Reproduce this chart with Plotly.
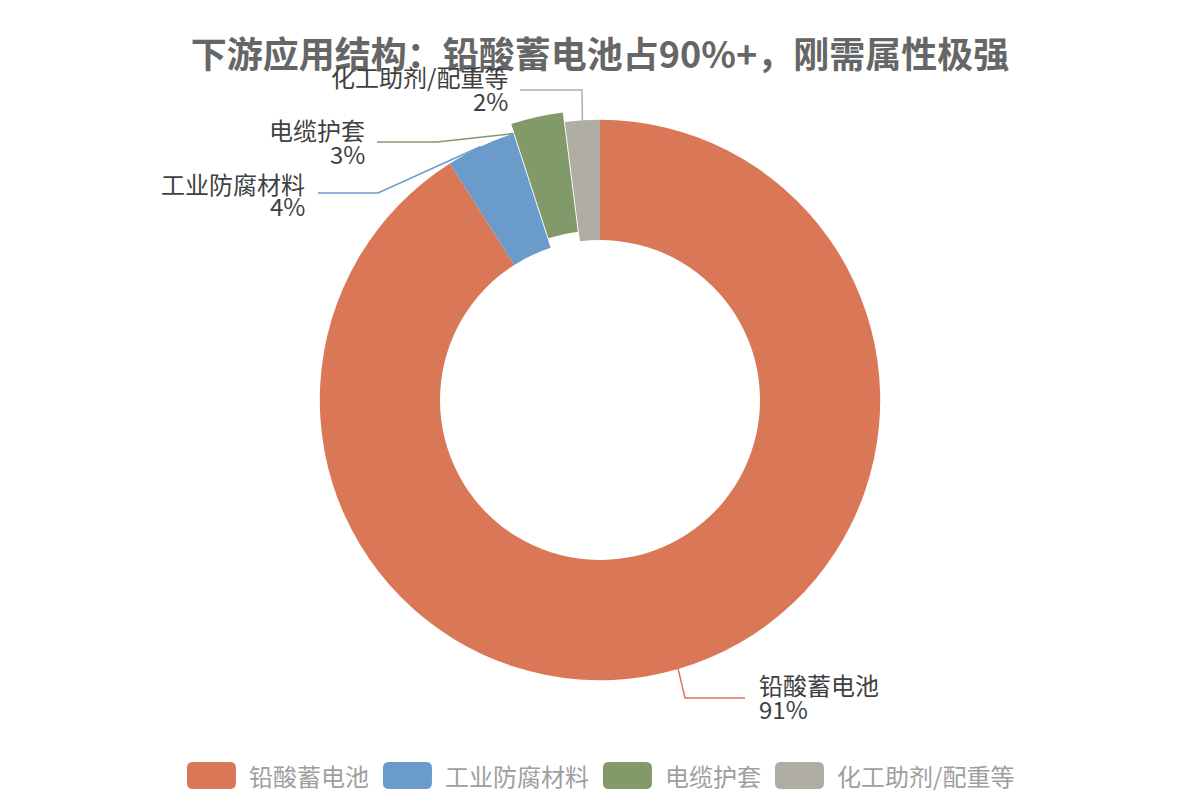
import math
import plotly.graph_objects as go

# ---------------- data ----------------
categories = ["铅酸蓄电池", "工业防腐材料", "电缆护套", "化工助剂/配重等"]
shares = [91, 4, 3, 2]
colors = ["#D97757", "#6B9BCB", "#82996A", "#B0ADA5"]
pulls = [0, 0, 0.035, 0]
title_text = "下游应用结构：铅酸蓄电池占90%+，刚需属性极强"

# ---------------- layout constants (pixels) ----------------
W, H = 1200, 800
ML, MR, MT, MB = 80, 80, 110, 110
PW, PH = W - ML - MR, H - MT - MB
CX, CY = ML + PW / 2, MT + PH / 2
R = min(PW, PH) / 2 / (1 + max(pulls))
HOLE = 0.571
FONT = "Noto Sans CJK SC, Noto Sans, sans-serif"

# label placement (Excel-like callouts): attach fraction within slice, elbow, line end, text x, anchor, name y, pct y
label_layout = [
    dict(frac=0.5, elbow=(685, 698), end=(745, 698), tx=757, anchor="left", ny=684, py=708),
    dict(frac=0.5, elbow=(378, 193), end=(318, 193), tx=307, anchor="right", ny=183, py=205),
    dict(frac=0.0, elbow=(437, 142), end=(377, 142), tx=367, anchor="right", ny=130, py=153),
    dict(frac=0.5, elbow=(582, 90), end=(520, 90), tx=510, anchor="right", ny=76, py=100),
]


def paper(x, y):
    return (x - ML) / PW, (H - MB - y) / PH


fig = go.Figure(
    go.Pie(
        labels=categories,
        values=shares,
        marker=dict(colors=colors, line=dict(width=0)),
        hole=HOLE,
        sort=False,
        direction="clockwise",
        rotation=0,
        pull=pulls,
        textinfo="none",
        hoverinfo="label+percent",
        showlegend=False,
    )
)

shapes = []
annotations = []

total = sum(shares)
cum = 0
for cat, val, col, lay in zip(categories, shares, colors, label_layout):
    start = cum / total * 360
    span = val / total * 360
    cum += val
    ang = math.radians(start + lay["frac"] * span)
    ax, ay = CX + R * math.sin(ang), CY - R * math.cos(ang)
    p0 = paper(ax, ay)
    p1 = paper(*lay["elbow"])
    p2 = paper(*lay["end"])
    shapes.append(dict(
        type="path", xref="paper", yref="paper",
        path=f"M {p0[0]},{p0[1]} L {p1[0]},{p1[1]} L {p2[0]},{p2[1]}",
        line=dict(color=col, width=1.5),
    ))
    pct = f"{round(val / total * 100)}%"
    for txt, yy in ((cat, lay["ny"]), (pct, lay["py"])):
        x, y = paper(lay["tx"], yy)
        annotations.append(dict(
            x=x, y=y, xref="paper", yref="paper", text=txt, showarrow=False,
            xanchor=lay["anchor"], yanchor="middle",
            font=dict(size=24, color="#404040", family=FONT),
        ))

# ---------------- custom legend ----------------
LEG_SIZE = 24
RECT_W, RECT_H, RAD = 49, 27, 6
GAP_TXT, GAP_ITEM = 11, 16
LEG_Y = 775.5


def text_w(s, size):
    return sum(size if ord(c) > 0x2E80 else size * 0.42 for c in s)


widths = [text_w(c, LEG_SIZE) for c in categories]
total_w = sum(RECT_W + GAP_TXT + w for w in widths) + GAP_ITEM * (len(categories) - 1)
x = W / 2 - total_w / 2


def rrect_path(x0, y0, x1, y1, r):
    pts = [
        ("M", [(x0 + r, y0)]), ("L", [(x1 - r, y0)]), ("Q", [(x1, y0), (x1, y0 + r)]),
        ("L", [(x1, y1 - r)]), ("Q", [(x1, y1), (x1 - r, y1)]),
        ("L", [(x0 + r, y1)]), ("Q", [(x0, y1), (x0, y1 - r)]),
        ("L", [(x0, y0 + r)]), ("Q", [(x0, y0), (x0 + r, y0)]),
    ]
    out = []
    for cmd, ps in pts:
        coords = " ".join("{:.5f},{:.5f}".format(*paper(px, py)) for px, py in ps)
        out.append(f"{cmd} {coords}")
    return " ".join(out) + " Z"


for cat, col, w in zip(categories, colors, widths):
    shapes.append(dict(
        type="path", xref="paper", yref="paper",
        path=rrect_path(x, LEG_Y - RECT_H / 2, x + RECT_W, LEG_Y + RECT_H / 2, RAD),
        fillcolor=col, line=dict(width=0),
    ))
    tx, ty = paper(x + RECT_W + GAP_TXT, LEG_Y)
    annotations.append(dict(
        x=tx, y=ty, xref="paper", yref="paper", text=cat, showarrow=False,
        xanchor="left", yanchor="middle",
        font=dict(size=LEG_SIZE, color="#9E9E9E", family=FONT),
    ))
    x += RECT_W + GAP_TXT + w + GAP_ITEM

fig.update_layout(
    width=W, height=H,
    margin=dict(l=ML, r=MR, t=MT, b=MB, autoexpand=False),
    paper_bgcolor="white", plot_bgcolor="white",
    showlegend=False,
    title=dict(
        text=title_text, x=0.5, xanchor="center", y=1 - 55 / H, yanchor="middle",
        font=dict(size=36, color="#666666", family=FONT, weight="bold"),
    ),
    shapes=shapes,
    annotations=annotations,
    font=dict(family=FONT),
)

fig.write_html("out.html")
